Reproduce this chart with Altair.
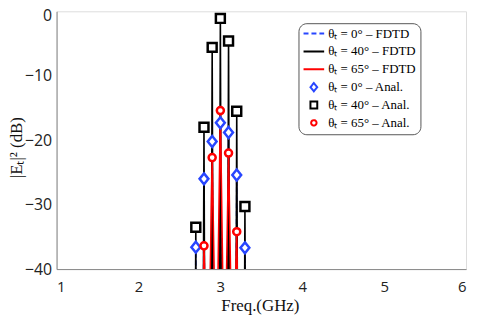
import altair as alt
import pandas as pd

# ---- data ----
spike_freq = [2.6, 2.65, 2.7, 2.75, 2.8, 2.85, 2.9, 2.95, 3.0, 3.05, 3.1, 3.15, 3.2, 3.25, 3.3, 3.35, 3.4]
fdtd_0 = [-200, -200, -36.6, -200, -26.0, -200, -20.2, -200, -17.3, -200, -18.8, -200, -25.4, -200, -36.7, -200, -200]
fdtd_40 = [-200, -200, -33.5, -200, -18.0, -200, -5.6, -200, -1.1, -200, -4.6, -200, -15.5, -200, -30.3, -200, -200]
fdtd_65 = [-80, -80, -80, -80, -36.4, -60, -22.7, -60, -15.4, -60, -22.0, -60, -34.2, -80, -80, -80, -80]

anal_freq_0 = [2.7, 2.8, 2.9, 3.0, 3.1, 3.2, 3.3]
anal_0 = [-36.6, -26.0, -20.2, -17.3, -18.8, -25.4, -36.7]
anal_freq_40 = [2.7, 2.8, 2.9, 3.0, 3.1, 3.2, 3.3]
anal_40 = [-33.5, -18.0, -5.6, -1.1, -4.6, -15.5, -30.3]
anal_freq_65 = [2.8, 2.9, 3.0, 3.1, 3.2]
anal_65 = [-36.4, -22.7, -15.4, -22.0, -34.2]

labels = [
    "θₜ = 0° – FDTD",
    "θₜ = 40° – FDTD",
    "θₜ = 65° – FDTD",
    "θₜ = 0° – Anal.",
    "θₜ = 40° – Anal.",
    "θₜ = 65° – Anal.",
]

x_ticks = [1, 2, 3, 4, 5, 6]
y_ticks = [-40, -30, -20, -10, 0]

BLUE = "#2846ff"
RED = "#ff0000"
BLACK = "#000000"

# symbol outlines (line for FDTD, diamond / square / circle for analytical)
LINE_SYM = "M-2.6,0H2.6"
DIAMOND_SYM = "M0,-1.05L0.85,0L0,1.05L-0.85,0Z"
SQUARE_SYM = "M-0.86,-0.86H0.86V0.86H-0.86Z"
CIRCLE_SYM = "M-0.68,0A0.68,0.68 0 1,1 0.68,0A0.68,0.68 0 1,1 -0.68,0Z"

# ---- tables ----
rows = []
for lab, vals in zip(labels[:3], [fdtd_0, fdtd_40, fdtd_65]):
    for i, (f, v) in enumerate(zip(spike_freq, vals)):
        rows.append({"series": lab, "freq": f, "db": v, "order": i})
lines_df = pd.DataFrame(rows)

prow = []
for lab, fs, vs in zip(labels[3:], [anal_freq_0, anal_freq_40, anal_freq_65], [anal_0, anal_40, anal_65]):
    for f, v in zip(fs, vs):
        prow.append({"series": lab, "freq": f, "db": v})
pts_df = pd.DataFrame(prow)

xscale = alt.Scale(domain=[1, 6], nice=False, zero=False)
yscale = alt.Scale(domain=[-40, 0], nice=False, zero=False)

xaxis = alt.Axis(values=x_ticks, format="d", grid=False, ticks=False, labelPadding=11, labelFontSize=15,
                 labelFont="Open Sans", labelColor="#222", domainColor="#888",
                 title="Freq.(GHz)", titleFont="Liberation Serif", titleFontSize=17,
                 titleFontWeight="normal", titleColor="#111", titleX=205, titleY=42,
                 titleBaseline="alphabetic", titleAnchor="start", titleAlign="center")
yaxis = alt.Axis(values=y_ticks, format="d", grid=False, ticks=False, labelPadding=5, labelFontSize=16,
                 labelFont="Open Sans", labelColor="#222", domainColor="#888",
                 labelOffset={"condition": {"test": "datum.value == 0", "value": 4}, "value": 0},
                 title="|Eₜ|² (dB)", titleFont="Liberation Serif", titleFontSize=17,
                 titleFontWeight="normal", titleColor="#111", titleX=-40, titleY=137,
                 titleAngle=270, titleBaseline="middle", titleAlign="center", titleAnchor="start")

legend = alt.Legend(orient="none", legendX=244, legendY=12, padding=4, rowPadding=1,
                    symbolSize=64, symbolStrokeWidth=2, symbolOffset=5, labelOffset=8,
                    symbolFillColor="white", gridAlign="all",
                    labelFont="Liberation Serif", labelFontSize=13, labelColor="#000", title=None,
                    strokeColor="#555", cornerRadius=8)

color_scale = alt.Scale(domain=labels, range=[BLUE, BLACK, RED, BLUE, BLACK, RED])
dash_scale = alt.Scale(domain=labels, range=[[5, 3], [1, 0], [1, 0], [1, 0], [1, 0], [1, 0]])
shape_scale = alt.Scale(domain=labels,
                        range=[LINE_SYM, LINE_SYM, LINE_SYM, DIAMOND_SYM, SQUARE_SYM, CIRCLE_SYM])

lines = alt.Chart(lines_df).mark_line(clip=True, strokeWidth=1.6).encode(
    x=alt.X("freq:Q", scale=xscale, axis=xaxis),
    y=alt.Y("db:Q", scale=yscale, axis=yaxis),
    color=alt.Color("series:N", scale=color_scale, legend=legend),
    strokeDash=alt.StrokeDash("series:N", scale=dash_scale, legend=legend),
    order="order:Q",
)

points = alt.Chart(pts_df).mark_point(clip=True, opacity=1, filled=False, fill="white",
                                      size=110, strokeWidth=2.5).encode(
    x=alt.X("freq:Q", scale=xscale),
    y=alt.Y("db:Q", scale=yscale),
    color=alt.Color("series:N", scale=color_scale, legend=legend),
    shape=alt.Shape("series:N", scale=shape_scale, legend=legend),
)

chart = alt.layer(lines, points).properties(
    width=413, height=260,
    autosize=alt.AutoSizeParams(type="none"),
    padding={"left": 49, "top": 2, "right": 4, "bottom": 46},
).configure_view(stroke="#aaa", strokeWidth=1).configure(background="white")

chart.save("out.html", embed_options={"renderer": "svg", "actions": False})
